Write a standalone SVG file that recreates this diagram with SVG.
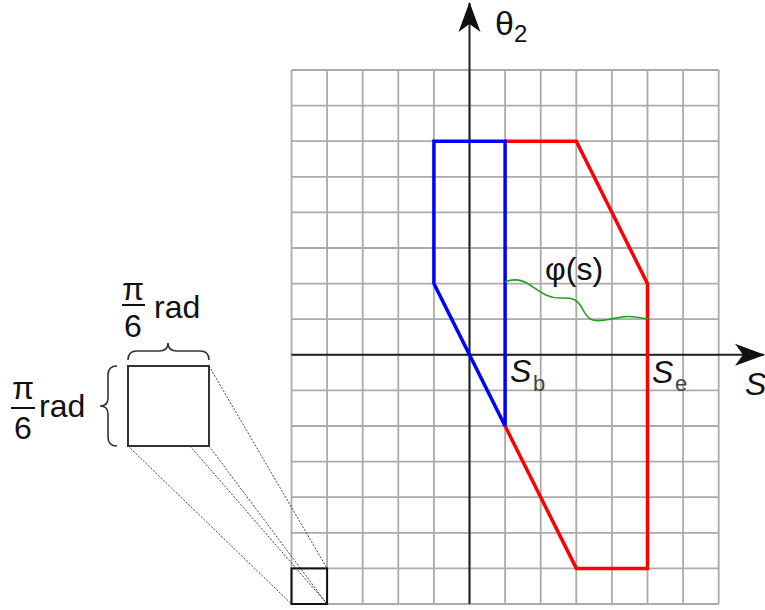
<svg xmlns="http://www.w3.org/2000/svg" width="765" height="610" viewBox="0 0 765 610">
<style>
text{font-family:"Liberation Sans",Arial,sans-serif;fill:#111}
.grid{stroke:#ababab;stroke-width:1.8;fill:none}
.axis{stroke:#222;stroke-width:2;fill:none}
.dot{stroke:#444;stroke-width:1;stroke-dasharray:2 1.5;fill:none}
.box{stroke:#333;stroke-width:2;fill:none}
.brace{stroke:#333;stroke-width:1.6;fill:none}
.lbl{font-size:32px}
.it{font-style:italic}
.sub{font-size:22px;fill:#444}
</style>
<defs>
<marker id="ah" viewBox="0 0 30 24" refX="29" refY="12" markerWidth="30" markerHeight="24" markerUnits="userSpaceOnUse" orient="auto">
<path d="M0,1 L30,12 L0,23 L8,12 Z" fill="#111"/>
</marker>
</defs>
<g id="grid">
<path class="grid" d="M291.5,70V604M327.1,70V604M362.7,70V604M398.3,70V604M433.9,70V604M469.5,70V604M505.1,70V604M540.7,70V604M576.3,70V604M611.9,70V604M647.5,70V604M683.1,70V604M718.7,70V604M291.5,70H718.7M291.5,105.6H718.7M291.5,141.2H718.7M291.5,176.8H718.7M291.5,212.4H718.7M291.5,248H718.7M291.5,283.6H718.7M291.5,319.2H718.7M291.5,354.8H718.7M291.5,390.4H718.7M291.5,426H718.7M291.5,461.6H718.7M291.5,497.2H718.7M291.5,532.8H718.7M291.5,568.4H718.7M291.5,604H718.7"/>
</g>
<g id="connectors">
<path class="axis" d="M291.5,354.8H764" marker-end="url(#ah)"/>
<path class="axis" d="M469.5,604V3" marker-end="url(#ah)"/>
<path class="dot" d="M209,366L327.1,568.4"/>
<path class="dot" d="M128,446L291.5,604"/>
<path class="dot" d="M190,446L327.1,604"/>
<path class="dot" d="M209,446L327.1,604"/>
</g>
<g id="red-region">
<path d="M505.1,141.2L576.3,141.2L647.5,283.6L647.5,568.4L576.3,568.4L505.1,426" fill="none" stroke="#ff0000" stroke-width="3.5" stroke-linejoin="miter"/>
</g>
<g id="blue-region">
<path d="M505.1,141.2L433.9,141.2L433.9,283.6L505.1,426Z" fill="none" stroke="#0000ff" stroke-width="3.5"/>
</g>
<g id="phi-curve">
<path d="M505,282C512,279 520,278 530,285C542,293 548,298 560,298C570,298 576,297 582,308C588,320 592,322 605,320C620,318 625,315 635,317L648,319" fill="none" stroke="#22a022" stroke-width="1.6"/>
<text class="lbl" x="545" y="280">φ(s)</text>
</g>
<g id="theta-label">
<text x="495" y="35" style="font-size:34px">θ</text>
<text x="514" y="42" style="font-size:24px">2</text>
</g>
<g id="s-axis-label">
<text class="lbl it" x="745" y="395">S</text>
</g>
<g id="sb-label">
<text class="lbl it" x="510" y="382">S</text>
<text class="sub" x="533" y="391">b</text>
</g>
<g id="se-label">
<text class="lbl it" x="652" y="383">S</text>
<text class="sub" x="675" y="391">e</text>
</g>
<g id="small-cell">
<rect x="291.5" y="568.4" width="35.6" height="35.6" fill="none" stroke="#111" stroke-width="2"/>
</g>
<g id="zoom-cell">
<rect class="box" x="128" y="366" width="81" height="80"/>
<path class="brace" d="M128,360Q128,351 137,351L159,351Q168,351 168,343Q168,351 177,351L200,351Q209,351 209,360"/>
<path class="brace" d="M117,366Q108,366 108,375L108,398Q108,406 100,406Q108,406 108,414L108,437Q108,446 117,446"/>
</g>
<g id="top-dim-label">
<text class="lbl" x="133" y="300" text-anchor="middle">π</text>
<path d="M122,305H145" stroke="#111" stroke-width="2"/>
<text class="lbl" x="133" y="337" text-anchor="middle">6</text>
<text class="lbl" x="154" y="318">rad</text>
</g>
<g id="left-dim-label">
<text class="lbl" x="23" y="399" text-anchor="middle">π</text>
<path d="M11,408H35" stroke="#111" stroke-width="2"/>
<text class="lbl" x="23" y="439" text-anchor="middle">6</text>
<text class="lbl" x="39" y="417">rad</text>
</g>
</svg>
